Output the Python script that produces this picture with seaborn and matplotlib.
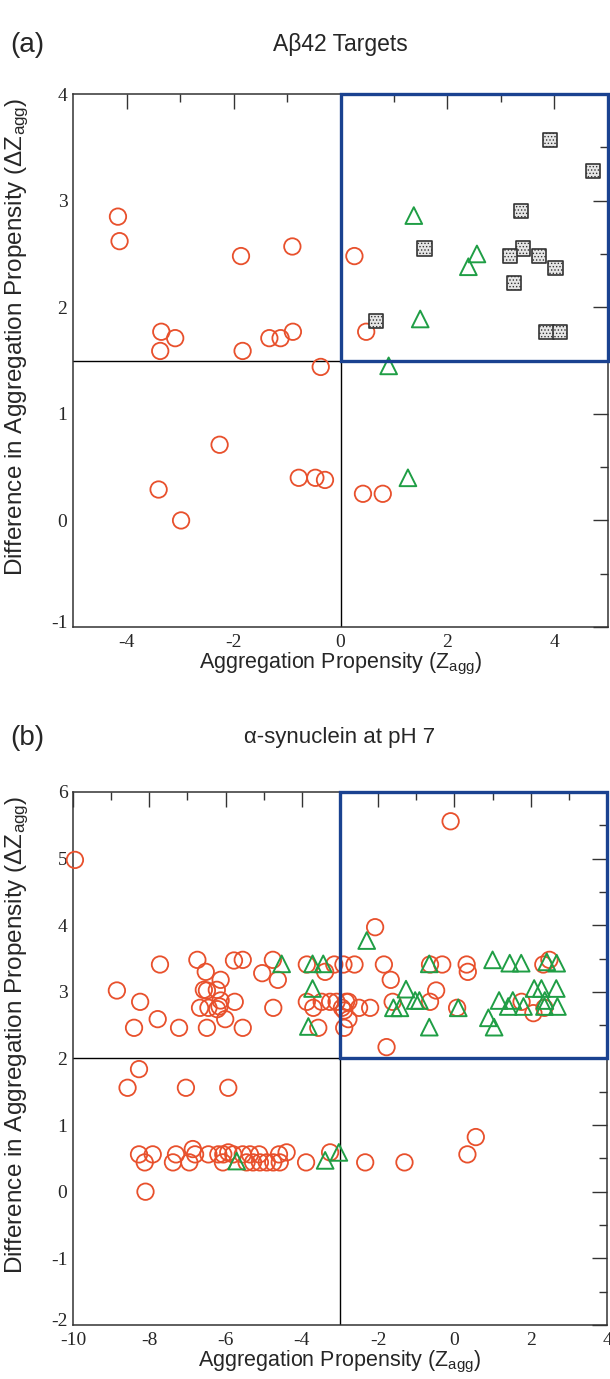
import matplotlib
matplotlib.use("Agg")
import matplotlib.pyplot as plt
import matplotlib.transforms as mtransforms
from matplotlib.patches import Rectangle
import seaborn as sns

# ---- Panel (a): Abeta42 targets ------------------------------
a_circle_x = [-4.16, -4.13, -1.86, -0.90, -3.35, -3.09, -3.37, -1.83, -1.33, -1.12,
              -0.89, -0.37, -2.26, -3.40, -2.98, -0.78, -0.47, -0.29, 0.26, 0.48,
              0.42, 0.79]
a_circle_y = [2.85, 2.62, 2.48, 2.57, 1.77, 1.71, 1.59, 1.59, 1.71, 1.71,
              1.77, 1.44, 0.71, 0.29, 0.00, 0.40, 0.40, 0.38, 2.48, 1.77,
              0.25, 0.25]
a_tri_x = [1.37, 2.55, 2.39, 1.49, 0.90, 1.26]
a_tri_y = [2.86, 2.50, 2.38, 1.89, 1.45, 0.40]
a_square_x = [3.91, 4.72, 3.38, 1.57, 3.41, 3.17, 3.71, 4.02, 3.24, 0.66, 3.85, 4.10]
a_square_y = [3.57, 3.28, 2.90, 2.55, 2.55, 2.48, 2.48, 2.37, 2.23, 1.87, 1.77, 1.77]
a_cut = (0.0, 1.5)          # threshold lines (Zagg, dZagg)
a_xticks = [-4, -2, 0, 2, 4]
a_yticks = [-1, 0, 1, 2, 3, 4]

# ---- Panel (b): alpha-synuclein at pH 7 ----------------------
b_circle_x = [-9.95, -8.85, -7.72, -8.24, -8.40, -7.78, -7.22, -6.74, -6.52, -6.13,
              -6.57, -6.49, -6.23, -6.67, -6.45, -6.16, -6.22, -6.13, -5.76, -6.01,
              -6.49, -5.78, -5.55, -5.55, -8.27, -5.04, -4.76, -4.63, -4.75,
              -3.87, -3.39, -3.15, -2.91, -2.62, -3.87, -3.70, -3.48, -3.26, -3.09,
              -2.95, -2.84, -2.78, -2.89, -2.78, -2.50, -2.21, -3.57, -2.89,
              -2.08, -1.85, -1.67, -1.62, -1.78, -0.64, -0.32, 0.32, 0.35, -0.48,
              -0.64, 0.07, 2.33, 2.49, 1.76, 2.07, 2.36, -0.10,
              # lower band
              -8.57, -7.04, -5.93,
              -8.27, -7.91, -7.30, -6.80, -6.45, -6.19, -6.06, -5.93, -5.80, -5.55,
              -5.36, -5.12, -4.60, -4.40, -6.86,
              -8.12, -7.38, -6.95, -6.07, -5.45, -5.28, -5.10, -4.92, -4.75, -4.58,
              -3.89, -2.34, -1.31,
              -3.26, 0.56, 0.34, -8.10]
b_circle_y = [4.98, 3.02, 3.41, 2.85, 2.46, 2.59, 2.46, 3.48, 3.30, 3.18,
              3.03, 3.02, 3.03, 2.76, 2.76, 2.78, 2.74, 2.87, 2.85, 2.59,
              2.46, 3.47, 3.48, 2.46, 1.84, 3.28, 3.48, 3.18, 2.76,
              3.41, 3.30, 3.41, 3.41, 3.41, 2.85, 2.76, 2.85, 2.85, 2.85,
              2.76, 2.85, 2.85, 2.72, 2.59, 2.76, 2.76, 2.46, 2.46,
              3.97, 3.41, 3.18, 2.85, 2.17, 3.41, 3.41, 3.41, 3.30, 3.02,
              2.85, 2.76, 3.41, 3.48, 2.85, 2.68, 2.76, 5.56,
              1.56, 1.56, 1.56,
              0.56, 0.56, 0.56, 0.56, 0.56, 0.56, 0.56, 0.59, 0.56, 0.56,
              0.56, 0.56, 0.56, 0.59, 0.64,
              0.44, 0.44, 0.44, 0.44, 0.44, 0.44, 0.44, 0.44, 0.44, 0.44,
              0.44, 0.44, 0.44,
              0.59, 0.82, 0.56, 0.00]
b_tri_x = [-4.53, -3.72, -3.44, -3.72, -3.83, -2.30, -1.27, -1.60, -1.43, -1.03,
           -0.92, -0.66, -0.66, 0.10, 1.00, 1.45, 1.75, 2.42, 2.68, 2.09,
           2.28, 2.67, 1.17, 1.53, 1.41, 1.81, 2.37, 2.36, 2.70, 0.89,
           1.04, -5.71, -3.39, -3.03]
b_tri_y = [3.42, 3.42, 3.42, 3.05, 2.48, 3.77, 3.04, 2.76, 2.76, 2.87,
           2.87, 3.42, 2.47, 2.76, 3.48, 3.43, 3.43, 3.45, 3.43, 3.05,
           3.05, 3.05, 2.87, 2.87, 2.78, 2.78, 2.87, 2.78, 2.78, 2.61,
           2.47, 0.46, 0.47, 0.59]
b_cut = (-3.0, 2.0)
b_xticks = [-10, -8, -6, -4, -2, 0, 2, 4]
b_yticks = [-2, -1, 0, 1, 2, 3, 4, 5, 6]

# ---- Style ---------------------------------------------------
sns.set_style("white")
plt.rcParams["font.family"] = ["Liberation Sans", "DejaVu Sans"]
plt.rcParams["axes.unicode_minus"] = False
plt.rcParams["mathtext.default"] = "regular"
plt.rcParams["hatch.linewidth"] = 0.6

RED = "#e8502c"
GREEN = "#1f9e45"
BLUE = "#1a4290"
AXIS = "#333333"


def draw_panel(ax, circles, tris, squares, cut, xlim, ylim, xticks, yticks):
    sns.scatterplot(x=circles[0], y=circles[1], marker="o", s=140,
                    facecolor="none", edgecolor=RED, linewidth=1.3,
                    clip_on=False, zorder=3, ax=ax)
    sns.scatterplot(x=tris[0], y=tris[1], marker="^", s=145,
                    facecolor="none", edgecolor=GREEN, linewidth=1.4,
                    clip_on=False, zorder=3, ax=ax)
    if squares is not None:
        sns.scatterplot(x=squares[0], y=squares[1], marker="s", s=105,
                        facecolor="#e6e6e6", edgecolor="#333333", hatch=".....",
                        linewidth=1.2, clip_on=False, zorder=3, ax=ax)

    ax.set_xlim(*xlim)
    ax.set_ylim(*ylim)
    ax.axvline(cut[0], color="black", lw=1.0, zorder=1)
    ax.axhline(cut[1], color="black", lw=1.0, zorder=1)
    ax.add_patch(Rectangle((cut[0], cut[1]), xlim[1] - cut[0], ylim[1] - cut[1],
                           fill=False, edgecolor=BLUE, lw=2.4, clip_on=False, zorder=4))

    ax.set_xticks(xticks)
    ax.set_xticklabels([str(t) for t in xticks], family="Liberation Serif", fontsize=14)
    ax.set_yticks(yticks)
    ax.set_yticklabels([str(t) for t in yticks], family="Liberation Serif", fontsize=14)
    ax.set_xticks([t + (xticks[1] - xticks[0]) / 2 for t in xticks[:-1]], minor=True)
    ax.set_yticks([t + 0.5 for t in yticks[:-1]], minor=True)
    ax.tick_params(which="both", direction="in", top=True, right=True,
                   color=AXIS, width=1.0)
    ax.tick_params(which="major", length=11, pad=4)
    ax.tick_params(axis="x", which="major", pad=5)
    ax.tick_params(which="minor", length=5.5)
    for sp in ax.spines.values():
        sp.set_color(AXIS)
        sp.set_linewidth(1.1)

    # lift the lowest y label a little so it does not sit on the first x label
    lowest = ax.get_yticklabels()[0]
    lowest.set_transform(lowest.get_transform() +
                         mtransforms.ScaledTranslation(0, 4 / 72, ax.figure.dpi_scale_trans))

    ax.set_xlabel("Aggregation Propensity (Z$_{agg}$)", fontsize=15.5, labelpad=0)
    ax.set_ylabel("Difference in Aggregation Propensity ($\\Delta$Z$_{agg}$)", fontsize=17.5)
    ax.yaxis.set_label_coords(-0.078, 0.545)


fig = plt.figure(figsize=(6.10, 13.79), dpi=100)
ax_a = fig.add_axes([0.1197, 0.5453, 0.877, 0.3865])
ax_b = fig.add_axes([0.1197, 0.0392, 0.8754, 0.3865])

draw_panel(ax_a, (a_circle_x, a_circle_y), (a_tri_x, a_tri_y), (a_square_x, a_square_y),
           a_cut, (-5, 5), (-1, 4), a_xticks, a_yticks)
draw_panel(ax_b, (b_circle_x, b_circle_y), (b_tri_x, b_tri_y), None,
           b_cut, (-10, 4), (-2, 6), b_xticks, b_yticks)

fig.text(10 / 610, 1 - 45 / 1379, "(a)", fontsize=20, va="center", ha="left")
fig.text(340 / 610, 1 - 45 / 1379, "A\u03b242 Targets", fontsize=16.5, va="center", ha="center")
fig.text(10 / 610, 1 - 738 / 1379, "(b)", fontsize=20, va="center", ha="left")
fig.text(340 / 610, 1 - 738 / 1379, "\u03b1-synuclein at pH 7", fontsize=16,
         va="center", ha="center")

fig.savefig("out.png", dpi=100)
plt.close()
